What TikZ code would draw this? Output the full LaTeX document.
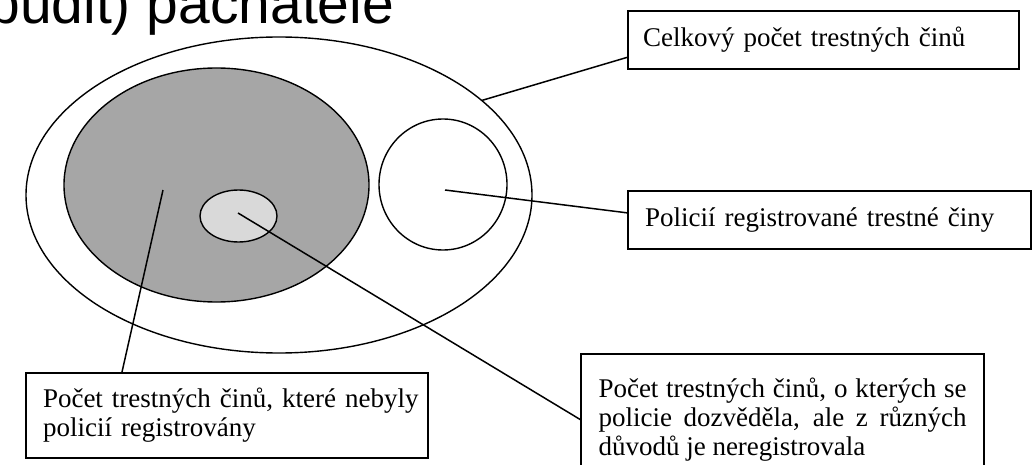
\documentclass[tikz,border=0pt]{standalone}
\usepackage{fontspec}
\setmainfont{Liberation Serif}
\newfontfamily\headfont{Liberation Sans}
\usetikzlibrary{shapes.geometric}
\newcommand{\boxfont}{\fontsize{13.5pt}{14.5pt}\selectfont}
\definecolor{crimedark}{gray}{0.65}
\definecolor{crimelight}{gray}{0.85}

\begin{document}
\begin{tikzpicture}
[x=0.5pt,y=-0.5pt,%
  setdecorate/.style={shape=ellipse,draw,line width=0.7pt,inner sep=0pt,outer sep=0pt},%
  boxdecorate/.style={shape=rectangle,draw,line width=0.8pt,fill=white,inner ysep=0pt,outer sep=0pt,align=left,font=\boxfont},%
  linedecorate/.style={-,line width=0.75pt}]
\useasboundingbox (0,0) rectangle (1033,465);
\clip (0,0) rectangle (1033,465);
%% heading cut off at the top
\node (heading) [anchor=base west,inner sep=0pt,font=\headfont\fontsize{28.5pt}{30pt}\selectfont] at (-12,24) {budit) pachatele};
%% sets of crimes
\node (allcrimes) at (279,195) [setdecorate,minimum width=253pt,minimum height=158pt] {};
\node (unregistered) at (216.5,185) [setdecorate,fill=crimedark,minimum width=152.5pt,minimum height=117pt] {};
\node (known) at (238.5,216) [setdecorate,fill=crimelight,minimum width=38.5pt,minimum height=26pt] {};
\node (registered) at (443,184.5) [setdecorate,minimum width=64pt,minimum height=65.5pt] {};
\coordinate (unregpin) at (163,190);
\coordinate (knownpin) at (238,213);
\coordinate (regpin) at (445,190);
%% labels
\node (totalbox) at (823.5,40) [boxdecorate,text width=180.5pt,inner xsep=7.5pt,minimum height=29pt]
  {Celkový počet trestných činů};
\node (regbox) at (829.5,220) [boxdecorate,text width=184.5pt,inner xsep=8.5pt,minimum height=29pt]
  {Policií registrované trestné činy};
\node (unregbox) at (227,415.5) [boxdecorate,text width=192pt,inner xsep=4.5pt,minimum height=42.5pt]
  {\hspace*{4pt}Počet trestných činů, které nebyly\\\hspace*{4pt}policií registrovány};
\node (knownbox) at (782.5,420) [boxdecorate,align=justify,text width=184pt,inner xsep=8.75pt,minimum height=66pt]
  {Počet trestných činů, o kterých se\linebreak policie dozvěděla, ale z různých\linebreak důvodů je neregistrovala};
%% pointers
\path
\foreach \startnode/\endnode in {allcrimes.25/totalbox.185, regpin/regbox.178,
  knownpin/knownbox.west, unregpin/unregbox.158} {
  (\startnode) edge[linedecorate] (\endnode)
};
\end{tikzpicture}
\end{document}
